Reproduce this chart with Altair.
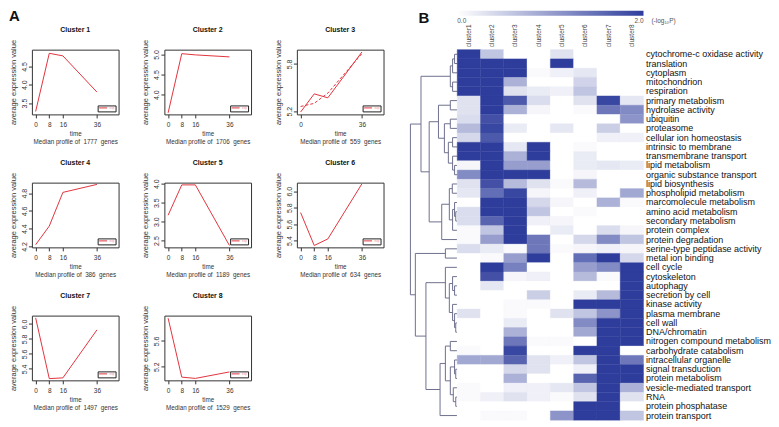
import altair as alt
import pandas as pd

FONT = "Liberation Sans"
RED = "#e2333d"
DARK_BLUE = "#2e3d9c"
DENDRO_COLOR = "#6e708f"

# ---------------- Panel A: median expression profiles ----------------
TIMES = [0, 8, 16, 36]
CLUSTER_TITLES = ["Cluster 1", "Cluster 2", "Cluster 3", "Cluster 4",
                  "Cluster 5", "Cluster 6", "Cluster 7", "Cluster 8"]
GENE_COUNTS = [1777, 1706, 559, 386, 1189, 634, 1497, 1529]
PROFILE_1 = [3.27, 4.86, 4.79, 3.80]
PROFILE_2 = [3.55, 5.02, 4.99, 4.94]
PROFILE_3 = [5.19, 5.42, 5.37, 5.95]
PROFILE_4 = [4.22, 4.43, 4.81, 4.90]
PROFILE_5 = [3.17, 3.97, 3.97, 2.37]
PROFILE_6 = [5.74, 5.34, 5.42, 6.09]
PROFILE_7 = [6.08, 5.27, 5.28, 5.92]
PROFILE_8 = [5.95, 5.04, 5.02, 5.12]
PROFILES = [PROFILE_1, PROFILE_2, PROFILE_3, PROFILE_4,
            PROFILE_5, PROFILE_6, PROFILE_7, PROFILE_8]
PROFILE_3_DASHED = [5.26, 5.30, 5.43, 5.93]
X_DOMAIN = [-2.2, 48.7]
Y_DOMAINS = [[3.19, 4.96], [3.51, 5.12], [5.16, 5.98], [4.19, 4.92],
             [2.32, 4.03], [5.317, 6.105], [5.247, 6.11], [4.99, 5.99]]
Y_TICKS = [[3.5, 4.0, 4.5], [4.0, 4.5, 5.0], [5.2, 5.4, 5.6, 5.8],
           [4.2, 4.4, 4.6, 4.8], [2.5, 3.0, 3.5, 4.0], [5.4, 5.6, 5.8, 6.0],
           [5.4, 5.6, 5.8, 6.0], [5.2, 5.6]]

# ---------------- Panel B: enrichment heatmap ----------------
HEAT_CLUSTERS = ["cluster1", "cluster2", "cluster3", "cluster4",
                 "cluster5", "cluster6", "cluster7", "cluster8"]
GO_TERMS = [
    "cytochrome-c oxidase activity", "translation", "cytoplasm", "mitochondrion",
    "respiration", "primary metabolism", "hydrolase activity", "ubiquitin",
    "proteasome", "cellular ion homeostasis", "intrinsic to membrane",
    "transmembrane transport", "lipid metabolism", "organic substance transport",
    "lipid biosynthesis", "phospholipid metabolism", "marcomolecule metabolism",
    "amino acid metabolism", "secondary metabolism", "protein complex",
    "protein degradation", "serine-type peptidase activity", "metal ion binding",
    "cell cycle", "cytoskeleton", "autophagy", "secretion by cell",
    "kinase activity", "plasma membrane", "cell wall", "DNA/chromatin",
    "nitrogen compound metabolism", "carbohydrate catabolism",
    "intracellular organelle", "signal transduction", "protein metabolism",
    "vesicle-mediated transport", "RNA", "protein phosphatase", "protein transport",
]
HEAT_VALUES = [
    [2.0, 0.6, 0.0, 0.0, 0.3, 0.0, 0.0, 0.0],
    [2.0, 2.0, 2.0, 0.0, 2.0, 0.0, 0.0, 0.0],
    [2.0, 2.0, 2.0, 0.05, 0.15, 0.25, 0.0, 0.0],
    [2.0, 2.0, 0.8, 0.0, 0.0, 0.45, 0.0, 0.0],
    [2.0, 2.0, 0.3, 0.2, 0.15, 0.6, 0.0, 0.0],
    [0.3, 2.0, 1.7, 0.35, 0.0, 0.3, 1.9, 0.25],
    [0.3, 2.0, 0.8, 0.1, 0.0, 0.05, 1.4, 1.2],
    [0.35, 1.8, 0.0, 0.0, 0.0, 0.0, 0.0, 1.1],
    [0.7, 1.9, 0.2, 0.0, 0.25, 0.0, 0.5, 0.0],
    [0.4, 1.7, 0.0, 0.0, 0.0, 0.0, 0.15, 0.15],
    [2.0, 2.0, 0.25, 2.0, 0.0, 0.05, 0.0, 0.0],
    [2.0, 2.0, 0.8, 2.0, 0.0, 0.2, 0.0, 0.0],
    [0.1, 2.0, 1.0, 1.0, 0.0, 0.2, 0.25, 0.2],
    [1.2, 2.0, 2.0, 2.0, 0.0, 0.1, 0.0, 0.0],
    [0.3, 1.8, 0.7, 0.3, 0.05, 0.7, 0.0, 0.0],
    [0.25, 1.5, 1.9, 0.1, 0.0, 0.15, 0.0, 0.9],
    [0.0, 2.0, 2.0, 0.4, 0.1, 0.0, 0.8, 0.05],
    [0.35, 2.0, 2.0, 0.6, 0.0, 0.05, 0.0, 0.0],
    [0.35, 1.6, 2.0, 0.15, 0.1, 0.0, 0.0, 0.0],
    [0.05, 0.6, 2.0, 0.0, 0.2, 0.0, 0.35, 0.1],
    [0.05, 1.0, 2.0, 1.4, 0.0, 0.4, 1.2, 0.6],
    [0.35, 0.2, 0.05, 1.4, 0.05, 0.1, 0.15, 0.1],
    [0.0, 0.05, 1.0, 2.0, 0.0, 1.5, 2.0, 0.4],
    [0.0, 2.0, 1.3, 0.0, 0.0, 1.0, 1.2, 2.0],
    [0.0, 1.8, 0.1, 0.15, 0.0, 0.7, 0.05, 2.0],
    [0.0, 0.25, 0.0, 0.0, 0.0, 0.0, 0.0, 2.0],
    [0.0, 0.0, 0.0, 0.5, 0.0, 0.2, 0.7, 2.0],
    [0.0, 0.0, 0.05, 0.05, 0.0, 2.0, 2.0, 2.0],
    [0.3, 0.0, 0.05, 0.0, 0.3, 0.6, 1.1, 2.0],
    [0.0, 0.0, 0.2, 0.0, 0.0, 1.2, 2.0, 2.0],
    [0.0, 0.0, 0.8, 0.0, 0.0, 0.9, 2.0, 2.0],
    [0.0, 0.0, 1.4, 0.05, 0.05, 0.0, 2.0, 2.0],
    [0.05, 0.0, 1.9, 0.0, 0.0, 2.0, 2.0, 0.0],
    [0.9, 0.9, 1.6, 0.3, 0.15, 0.6, 2.0, 1.4],
    [0.0, 0.0, 0.4, 0.3, 0.0, 0.15, 2.0, 2.0],
    [0.0, 0.0, 0.8, 0.0, 0.0, 1.6, 2.0, 2.0],
    [0.05, 0.0, 0.15, 0.15, 0.25, 0.6, 2.0, 0.8],
    [0.05, 0.15, 0.3, 0.15, 0.05, 0.3, 2.0, 0.3],
    [0.0, 0.0, 0.0, 0.0, 0.0, 2.0, 2.0, 0.0],
    [0.0, 0.05, 0.05, 0.0, 1.1, 2.0, 2.0, 0.6],
]
COLOR_DOMAIN = [0.0, 2.0]
LEGEND_TITLE = "(-log\u2081\u2080P)"

# Row dendrogram: [merge height, left, right]; integers are row indices
DENDROGRAM = [47.4,
    [36.7,
        [7, [4.7, [2.7, 0, 1], 2], [4.7, 3, 4]],
        [28.4,
            [19, [7, 5, 6],
                 [13, [7, 7, 8], [9, [4.7, 9, 10], [4.7, 11, [2.7, 12, 13]]]]],
            [15.7, [8, [5, 14, 15], [4.7, [2.7, 16, [1.5, 17, 18]], 19]], 20]]],
    [42.4,
        [12, 21, 22],
        [31.7,
            [12, 23, [8, [4.7, 24, [2.7, 25, 26]], [4.7, 27, [2.7, 28, [1.5, 29, 30]]]]],
            [17.4, [12, [7, 31, 32], [7, [2.7, 33, [1.5, 34, 35]], [4, 36, [1.5, 37, 38]]]], 39]]]]

# ---------------- layout constants ----------------
PW, PH = 87, 65
HEAT_W, ROW_H = 187, 9.3
HEAT_H = ROW_H * len(GO_TERMS)
DENDRO_W = 47
TOP_GAP = 39


def make_panel(i):
    df = pd.DataFrame({"time": TIMES, "value": PROFILES[i], "series": ["exp"] * 4})
    x = alt.X("time:Q", scale=alt.Scale(domain=X_DOMAIN, nice=False, zero=False),
              axis=alt.Axis(values=TIMES, format="d", domain=False, grid=False,
                            tickSize=3.5, tickColor="#333", labelFontSize=6.5,
                            labelPadding=4, labelColor="#333",
                            title=["time", f"Median profile of\u00a0 {GENE_COUNTS[i]}\u00a0 genes"],
                            titleFontSize=6.3, titleFontWeight="normal", titleColor="#333",
                            titlePadding=2, titleLineHeight=8))
    y = alt.Y("value:Q", scale=alt.Scale(domain=Y_DOMAINS[i], nice=False, zero=False),
              axis=alt.Axis(values=Y_TICKS[i], format=".1f", domain=False, grid=False,
                            tickSize=3.5, tickColor="#333", labelAngle=-90,
                            labelFontSize=7, labelPadding=1, labelColor="#333",
                            title="average expression value", titleFontSize=7.5,
                            titleFontWeight="normal", titleColor="#333", titlePadding=3))
    color = alt.Color("series:N", scale=alt.Scale(range=[RED]),
                      legend=alt.Legend(orient="bottom-right", offset=3, title=None,
                                        symbolType="stroke", symbolSize=64,
                                        symbolStrokeWidth=1, labelFontSize=3,
                                        labelColor="#f08890", labelOffset=2,
                                        padding=1, strokeColor="#222", clipHeight=3,
                                        fillColor="white", rowPadding=0))
    layers = [alt.Chart(df).mark_line(strokeWidth=1).encode(x=x, y=y, color=color)]
    if i == 2:
        df2 = pd.DataFrame({"time": TIMES, "value": PROFILE_3_DASHED})
        layers.append(alt.Chart(df2).mark_line(strokeWidth=1, strokeDash=[3, 2], color=RED)
                      .encode(x="time:Q", y="value:Q"))
    return alt.layer(*layers).properties(
        width=PW, height=PH,
        title=alt.TitleParams(CLUSTER_TITLES[i], fontSize=7, fontWeight="bold",
                              offset=6, color="#111", anchor="middle"),
        view=alt.ViewBackground(stroke="#333", strokeWidth=1),
    )


grid_a = alt.concat(*[make_panel(i) for i in range(8)], columns=3,
                    spacing={"row": 68.5, "column": 46}, bounds="flush",
                    title=alt.TitleParams("A", anchor="start", frame="bounds",
                                          fontSize=15, fontWeight="bold",
                                          color="#111", offset=2)
                    ).resolve_scale(color="independent").resolve_legend(color="independent")

# ---- dendrogram segments from the tree ----
segments = []


def walk(node):
    if isinstance(node, int):
        return node + 0.5, 0.0
    h, left, right = node
    yl, hl = walk(left)
    yr, hr = walk(right)
    segments.append({"h": h, "h2": h, "pos": yl, "pos2": yr})
    segments.append({"h": hl, "h2": h, "pos": yl, "pos2": yl})
    segments.append({"h": hr, "h2": h, "pos": yr, "pos2": yr})
    return (yl + yr) / 2, h


walk(DENDROGRAM)
seg_df = pd.DataFrame(segments)

dendro_lines = alt.Chart(seg_df).mark_rule(color=DENDRO_COLOR, strokeWidth=1).encode(
    x=alt.X("h:Q", scale=alt.Scale(domain=[0, DENDROGRAM[0]], reverse=True, nice=False, zero=False), axis=None),
    x2="h2:Q",
    y=alt.Y("pos:Q", scale=alt.Scale(domain=[0, len(GO_TERMS)], reverse=True, nice=False, zero=False), axis=None),
    y2="pos2:Q",
)
b_label = alt.Chart(pd.DataFrame({"label": ["B"]})).mark_text(
    fontSize=15, fontWeight="bold", align="left", baseline="top", color="#111"
).encode(text="label:N", x=alt.value(8), y=alt.value(-TOP_GAP))
dendro = alt.layer(dendro_lines, b_label).properties(width=DENDRO_W, height=HEAT_H)

# ---- heatmap ----
heat_rows = []
for term, vals in zip(GO_TERMS, HEAT_VALUES):
    for cl, v in zip(HEAT_CLUSTERS, vals):
        heat_rows.append({"term": term, "cluster": cl, "value": v})
heat_df = pd.DataFrame(heat_rows)

color_scale = alt.Scale(domain=COLOR_DOMAIN, range=["#ffffff", DARK_BLUE],
                        interpolate="rgb", clamp=True)
rects = alt.Chart(heat_df).mark_rect(strokeWidth=0.4).encode(
    x=alt.X("cluster:N", sort=HEAT_CLUSTERS,
            scale=alt.Scale(paddingInner=0, paddingOuter=0),
            axis=alt.Axis(orient="top", labelAngle=-90, labelAlign="left",
                          labelBaseline="middle", labelFontSize=6.5, labelColor="#444",
                          labelPadding=3, ticks=False, domain=False, title=None)),
    y=alt.Y("term:N", sort=GO_TERMS,
            scale=alt.Scale(paddingInner=0, paddingOuter=0),
            axis=alt.Axis(orient="right", labelFontSize=9, labelColor="#111",
                          labelPadding=2, labelLimit=400, ticks=False, domain=False,
                          title=None)),
    color=alt.Color("value:Q", scale=color_scale,
                    legend=alt.Legend(orient="none", legendX=0, legendY=-TOP_GAP,
                                      direction="horizontal", gradientLength=HEAT_W,
                                      gradientThickness=5, gradientStrokeWidth=0,
                                      values=COLOR_DOMAIN, format=".1f", title=None,
                                      labelFontSize=6.5, labelColor="#555",
                                      labelOffset=2, padding=0)),
    stroke=alt.Color("value:Q", scale=color_scale, legend=None),
)
legend_title = alt.Chart(pd.DataFrame({"label": [LEGEND_TITLE]})).mark_text(
    fontSize=6.5, align="left", baseline="middle", color="#555"
).encode(text="label:N", x=alt.value(HEAT_W + 8), y=alt.value(-TOP_GAP + 10.5))
heat = alt.layer(rects, legend_title).properties(width=HEAT_W, height=HEAT_H)

right_b = alt.hconcat(dendro, heat, spacing=0, bounds="flush"
                      ).resolve_scale(color="independent").resolve_legend(color="independent")

chart = alt.hconcat(grid_a, right_b, spacing=25
                    ).resolve_scale(color="independent").resolve_legend(color="independent"
                    ).properties(padding=0
                    ).configure(font=FONT
                    ).configure_view(strokeWidth=0)

chart.save("out.html", embed_options={"renderer": "svg", "actions": False})
